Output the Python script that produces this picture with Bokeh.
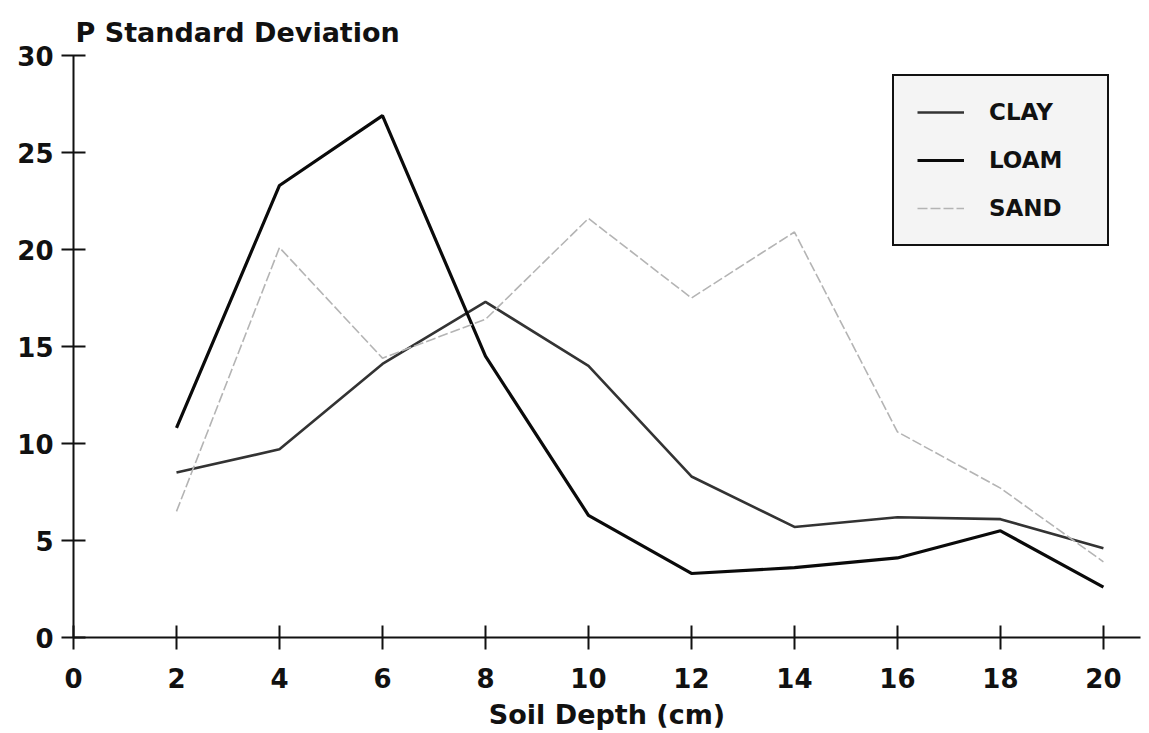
from bokeh.plotting import figure
from bokeh.models import Range1d, FixedTicker, Legend, LegendItem
from bokeh.embed import file_html
from bokeh.resources import INLINE

depth = [2, 4, 6, 8, 10, 12, 14, 16, 18, 20]
clay = [8.5, 9.7, 14.1, 17.3, 14.0, 8.3, 5.7, 6.2, 6.1, 4.6]
loam = [10.8, 23.3, 26.9, 14.5, 6.3, 3.3, 3.6, 4.1, 5.5, 2.6]
sand = [6.5, 20.1, 14.4, 16.4, 21.6, 17.5, 20.9, 10.6, 7.7, 3.9]
x_ticks = [0, 2, 4, 6, 8, 10, 12, 14, 16, 18, 20]
y_ticks = [0, 5, 10, 15, 20, 25, 30]

FONT = "DejaVu Sans"

p = figure(width=1141, height=733, output_backend="svg", toolbar_location=None,
           x_range=Range1d(0, 20.72), y_range=Range1d(0, 30),
           min_border_left=73, min_border_right=1, min_border_top=55, min_border_bottom=96)
p.outline_line_color = None
p.xgrid.visible = False
p.ygrid.visible = False
p.background_fill_color = "white"

p.title.text = "P Standard Deviation"
p.title.align = "left"
p.title.offset = 2
p.title.standoff = 15
p.title.text_font = FONT
p.title.text_font_style = "bold"
p.title.text_font_size = "27px"
p.title.text_color = "#111111"

r_clay = p.line(depth, clay, line_color="#333333", line_width=2.6)
r_loam = p.line(depth, loam, line_color="#0a0a0a", line_width=3.2)
r_sand = p.line(depth, sand, line_color="#b4b4b4", line_width=1.6, line_dash="10 3")

for ax in (p.xaxis[0], p.yaxis[0]):
    ax.axis_line_width = 2
    ax.axis_line_color = "#111111"
    ax.major_tick_line_width = 2
    ax.major_tick_line_color = "#111111"
    ax.major_tick_in = 12
    ax.major_tick_out = 12
    ax.minor_tick_line_color = None
    ax.major_label_text_font = FONT
    ax.major_label_text_font_style = "bold"
    ax.major_label_text_font_size = "26px"
    ax.major_label_text_color = "#111111"

p.xaxis.ticker = FixedTicker(ticks=x_ticks)
p.yaxis.ticker = FixedTicker(ticks=y_ticks)
p.xaxis.major_label_standoff = 18
p.yaxis.major_label_standoff = 8
p.xaxis.axis_label = "Soil Depth (cm)"
p.xaxis.axis_label_text_font = FONT
p.xaxis.axis_label_text_font_style = "bold"
p.xaxis.axis_label_text_font_size = "27px"
p.xaxis.axis_label_text_color = "#111111"
p.xaxis.axis_label_standoff = 8

legend = Legend(items=[LegendItem(label="CLAY", renderers=[r_clay]),
                       LegendItem(label="LOAM", renderers=[r_loam]),
                       LegendItem(label="SAND", renderers=[r_sand])],
                location=(819, 391))
legend.label_text_font = FONT
legend.label_text_font_style = "bold"
legend.label_text_font_size = "23px"
legend.label_text_color = "#111111"
legend.glyph_width = 47
legend.glyph_height = 24
legend.label_height = 24
legend.label_width = 95
legend.label_standoff = 25
legend.spacing = 22
legend.padding = 23
legend.margin = 0
legend.border_line_color = "#111111"
legend.border_line_alpha = 1.0
legend.border_line_width = 2.5
legend.background_fill_color = "#f4f4f4"
legend.background_fill_alpha = 1.0
p.add_layout(legend)

open("out.html", "w").write(file_html(p, INLINE))
